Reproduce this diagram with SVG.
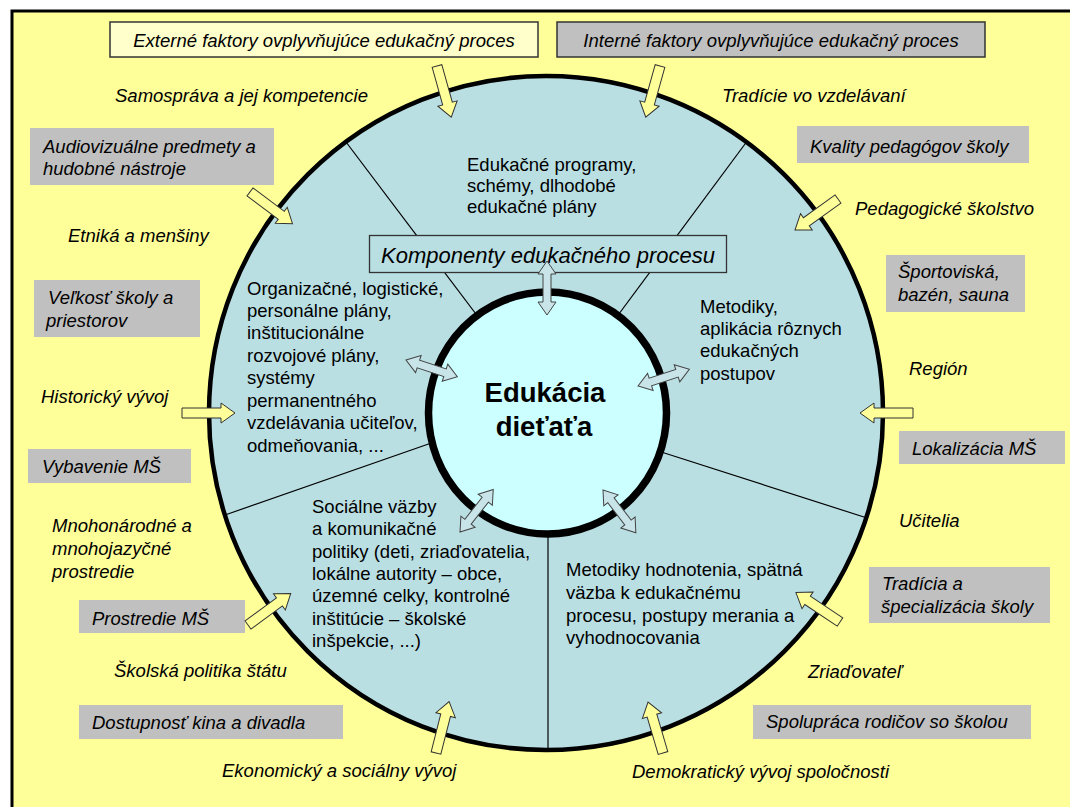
<svg xmlns="http://www.w3.org/2000/svg" width="1070" height="807" viewBox="0 0 1070 807">
<style>
.lbl{font-family:"Liberation Sans",Arial,sans-serif;font-size:18.5px;font-style:italic;fill:#000}
.txt{font-family:"Liberation Sans",Arial,sans-serif;font-size:18.5px;fill:#000}
.gbox{fill:#C0C0C0}
.div{stroke:#000;stroke-width:1.2;fill:none}
.ya{fill:#FFFF99;stroke:#333;stroke-width:1}
.ba{fill:#C8E4E8;stroke:#444;stroke-width:1}
</style>
<defs>
<path id="yarrow" d="M0,-5 L39,-5 L39,-10 L53,0 L39,10 L39,5 L0,5 Z"/>
<path id="barrow" d="M0,0 L13,-9 L13,-4 L41,-4 L41,-9 L54,0 L41,9 L41,4 L13,4 L13,9 Z"/>
</defs>
<rect x="0" y="0" width="1070" height="807" fill="#FFFFFF"/>
<rect x="12" y="11" width="1080" height="820" fill="#FFFF99" stroke="#000" stroke-width="3"/>

<g id="outer-circle"><circle cx="546" cy="413" r="337" fill="#B9DFE3" stroke="#000" stroke-width="4.5"/></g>

<g id="connectors">
<g id="dividers">
<line class="div" x1="346" y1="142" x2="485" y2="326"/>
<line class="div" x1="746.5" y1="142" x2="610" y2="326"/>
<line class="div" x1="225" y1="515" x2="440" y2="440"/>
<line class="div" x1="867" y1="518" x2="655" y2="450"/>
<line class="div" x1="548" y1="530" x2="548" y2="750"/>
</g>
</g>

<g id="center">
<ellipse cx="547.5" cy="413" rx="119" ry="121" fill="#CCFFFF" stroke="#000" stroke-width="7.5"/>
<text x="545" y="402" text-anchor="middle" style="font-family:'Liberation Sans',Arial,sans-serif;font-size:27.5px;font-weight:bold">Edukácia</text>
<text x="544" y="436" text-anchor="middle" style="font-family:'Liberation Sans',Arial,sans-serif;font-size:27.5px;font-weight:bold">dieťaťa</text>
</g>

<g id="komponenty">
<rect x="369.5" y="235.5" width="357" height="37" fill="#B9DFE3" stroke="#333" stroke-width="1.3"/>
<text x="548" y="263" text-anchor="middle" style="font-family:'Liberation Sans',Arial,sans-serif;font-size:22px;font-style:italic">Komponenty edukačného procesu</text>
</g>

<g id="inner-arrows">
<use href="#barrow" class="ba" transform="translate(547,261) rotate(90)"/>
<use href="#barrow" class="ba" transform="translate(406,360) rotate(18)"/>
<use href="#barrow" class="ba" transform="translate(638,386) rotate(-18)"/>
<use href="#barrow" class="ba" transform="translate(460,532) rotate(-52)"/>
<use href="#barrow" class="ba" transform="translate(603,490) rotate(52.5)"/>
</g>

<g id="sector-top"><text class="txt"><tspan x="467" y="171">Edukačné programy,</tspan><tspan x="467" y="192">schémy, dlhodobé</tspan><tspan x="467" y="213">edukačné plány</tspan></text></g>
<g id="sector-left"><text class="txt"><tspan x="247" y="295">Organizačné, logistické,</tspan><tspan x="247" y="317">personálne plány,</tspan><tspan x="247" y="339">inštitucionálne</tspan><tspan x="247" y="362">rozvojové plány,</tspan><tspan x="247" y="384">systémy</tspan><tspan x="247" y="407">permanentného</tspan><tspan x="247" y="429">vzdelávania učiteľov,</tspan><tspan x="247" y="452">odmeňovania, ...</tspan></text></g>
<g id="sector-right"><text class="txt"><tspan x="700" y="313">Metodiky,</tspan><tspan x="700" y="335">aplikácia rôznych</tspan><tspan x="700" y="357">edukačných</tspan><tspan x="700" y="380">postupov</tspan></text></g>
<g id="sector-lowleft"><text class="txt"><tspan x="312" y="513">Sociálne väzby</tspan><tspan x="312" y="535">a komunikačné</tspan><tspan x="312" y="558">politiky (deti, zriaďovatelia,</tspan><tspan x="312" y="580">lokálne autority – obce,</tspan><tspan x="312" y="602">územné celky, kontrolné</tspan><tspan x="312" y="625">inštitúcie – školské</tspan><tspan x="312" y="647">inšpekcie, ...)</tspan></text></g>
<g id="sector-lowright"><text class="txt"><tspan x="566" y="576">Metodiky hodnotenia, spätná</tspan><tspan x="566" y="599">väzba k edukačnému</tspan><tspan x="566" y="622">procesu, postupy merania a</tspan><tspan x="566" y="644">vyhodnocovania</tspan></text></g>

<g id="externe">
<rect x="110" y="22" width="428" height="35" fill="#FFFFCC" stroke="#333" stroke-width="1.5"/>
<text class="lbl" x="324" y="47" text-anchor="middle">Externé faktory ovplyvňujúce edukačný proces</text>
</g>
<g id="interne">
<rect x="557" y="22" width="428" height="35" fill="#C0C0C0" stroke="#333" stroke-width="1.5"/>
<text class="lbl" x="771" y="47" text-anchor="middle">Interné faktory ovplyvňujúce edukačný proces</text>
</g>

<g id="samosprava"><text class="lbl" x="115" y="102">Samospráva a jej kompetencie</text></g>
<g id="tradicie"><text class="lbl" x="722" y="102">Tradície vo vzdelávaní</text></g>
<g id="audiovizualne"><rect class="gbox" x="30" y="128" width="244" height="57"/><text class="lbl"><tspan x="43" y="153">Audiovizuálne predmety a</tspan><tspan x="43" y="175">hudobné nástroje</tspan></text></g>
<g id="etnika"><text class="lbl" x="68" y="242">Etniká a menšiny</text></g>
<g id="velkost"><rect class="gbox" x="34" y="280" width="166" height="57"/><text class="lbl"><tspan x="48" y="304">Veľkosť školy a</tspan><tspan x="46" y="327">priestorov</tspan></text></g>
<g id="historicky"><text class="lbl" x="41" y="403">Historický vývoj</text></g>
<g id="vybavenie"><rect class="gbox" x="28" y="449" width="163" height="34"/><text class="lbl" x="42" y="473">Vybavenie MŠ</text></g>
<g id="mnohonarodne"><text class="lbl"><tspan x="52" y="532">Mnohonárodné a</tspan><tspan x="52" y="555">mnohojazyčné</tspan><tspan x="52" y="578">prostredie</tspan></text></g>
<g id="prostredie"><rect class="gbox" x="79" y="600" width="166" height="33"/><text class="lbl" x="92" y="625">Prostredie MŠ</text></g>
<g id="skolska"><text class="lbl" x="114" y="677">Školská politika štátu</text></g>
<g id="dostupnost"><rect class="gbox" x="79" y="705" width="264" height="34"/><text class="lbl" x="92" y="729">Dostupnosť kina a divadla</text></g>
<g id="ekonomicky"><text class="lbl" x="222" y="777">Ekonomický a sociálny vývoj</text></g>
<g id="demokraticky"><text class="lbl" x="632" y="778">Demokratický vývoj spoločnosti</text></g>

<g id="kvality"><rect class="gbox" x="797" y="126" width="232" height="37"/><text class="lbl" x="810" y="153">Kvality pedagógov školy</text></g>
<g id="pedagogicke"><text class="lbl" x="855" y="215">Pedagogické školstvo</text></g>
<g id="sportoviska"><rect class="gbox" x="886" y="255" width="139" height="57"/><text class="lbl"><tspan x="898" y="278">Športoviská,</tspan><tspan x="898" y="301">bazén, sauna</tspan></text></g>
<g id="region"><text class="lbl" x="909" y="375">Región</text></g>
<g id="lokalizacia"><rect class="gbox" x="899" y="431" width="166" height="33"/><text class="lbl" x="912" y="455">Lokalizácia MŠ</text></g>
<g id="ucitelia"><text class="lbl" x="899" y="527">Učitelia</text></g>
<g id="tradicia"><rect class="gbox" x="869" y="567" width="181" height="56"/><text class="lbl"><tspan x="882" y="590">Tradícia a</tspan><tspan x="881" y="613">špecializácia školy</tspan></text></g>
<g id="zriadovatel"><text class="lbl" x="808" y="678">Zriaďovateľ</text></g>
<g id="spolupraca"><rect class="gbox" x="753" y="705" width="278" height="34"/><text class="lbl" x="766" y="728">Spolupráca rodičov so školou</text></g>

<g id="influence-arrows">
<use href="#yarrow" class="ya" transform="translate(437,66) rotate(74.4)"/>
<use href="#yarrow" class="ya" transform="translate(660,66) rotate(105.6)"/>
<use href="#yarrow" class="ya" transform="translate(250,192) rotate(36.7)"/>
<use href="#yarrow" class="ya" transform="translate(182,413) rotate(0)"/>
<use href="#yarrow" class="ya" transform="translate(248,625) rotate(-36.3)"/>
<use href="#yarrow" class="ya" transform="translate(436,753) rotate(-75.7)"/>
<use href="#yarrow" class="ya" transform="translate(663,753) rotate(-106.4)"/>
<use href="#yarrow" class="ya" transform="translate(840,622) rotate(-146.3)"/>
<use href="#yarrow" class="ya" transform="translate(913,413) rotate(180)"/>
<use href="#yarrow" class="ya" transform="translate(838,199) rotate(144.2)"/>
</g>
</svg>
